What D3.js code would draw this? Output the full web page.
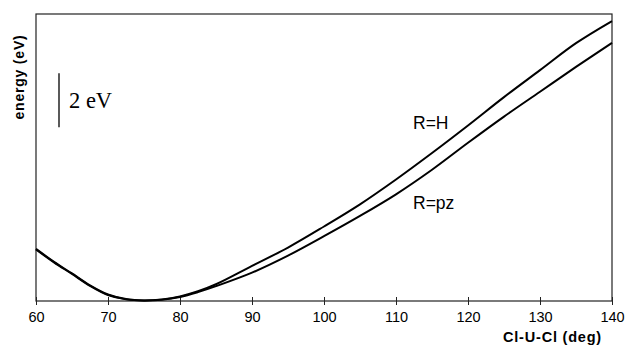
<!DOCTYPE html>
<html>
<head>
<meta charset="utf-8">
<script src="https://cdn.jsdelivr.net/npm/d3@7"></script>
<style>
  body { margin: 0; background: #fff; }
  svg { display: block; }
</style>
</head>
<body>
<svg width="625" height="345"></svg>
<script>
// bond angle (deg) and energy (eV)
const angles = [60, 62.5, 65, 67.5, 70, 72.5, 75, 77.5, 80, 82.5, 85, 90, 95, 100, 105, 110, 115, 120, 125, 130, 135, 140];
const energyH = [1.93, 1.45, 1.02, 0.58, 0.24, 0.07, 0.02, 0.06, 0.17, 0.36, 0.62, 1.30, 1.98, 2.76, 3.58, 4.50, 5.48, 6.50, 7.55, 8.55, 9.55, 10.37];
const energyPz = [1.91, 1.43, 1.00, 0.56, 0.22, 0.06, 0.02, 0.05, 0.15, 0.33, 0.55, 1.05, 1.68, 2.40, 3.15, 3.95, 4.86, 5.86, 6.83, 7.75, 8.67, 9.56];
const xTicks = [60, 70, 80, 90, 100, 110, 120, 130, 140];
const scaleBar = [6.44, 8.44]; // the "2 eV" bar

const svg = d3.select("svg");
const mLeft = 36, mRight = 612, mTop = 14, mBottom = 301;

const x = d3.scaleLinear().domain([60, 140]).range([mLeft, mRight]);
const y = d3.scaleLinear().domain([0, 10.63]).range([mBottom, mTop]);

const sans = "Arial, 'Liberation Sans', sans-serif";

// frame
svg.append("rect")
    .attr("x", mLeft).attr("y", mTop)
    .attr("width", mRight - mLeft).attr("height", mBottom - mTop)
    .attr("fill", "none")
    .attr("stroke", "#222")
    .attr("stroke-width", 1.2);

// x axis, ticks cross the line
const xAxis = svg.append("g")
    .attr("transform", `translate(0,${mBottom})`)
    .call(d3.axisBottom(x).tickValues(xTicks).tickSize(4).tickSizeOuter(0).tickPadding(7));
xAxis.select(".domain").remove();
xAxis.selectAll(".tick line")
    .attr("y1", -4).attr("y2", 4)
    .attr("stroke", "#222");
xAxis.selectAll(".tick text")
    .attr("font-family", sans)
    .attr("font-size", 14.5)
    .attr("fill", "#000");

svg.append("text")
    .attr("x", 602).attr("y", 342)
    .attr("text-anchor", "end")
    .attr("font-family", sans)
    .attr("font-size", 14.5)
    .attr("font-weight", "bold")
    .attr("letter-spacing", 0.8)
    .text("Cl-U-Cl (deg)");

svg.append("text")
    .attr("transform", "translate(23.5,77) rotate(-90)")
    .attr("text-anchor", "middle")
    .attr("font-family", sans)
    .attr("font-size", 14)
    .attr("font-weight", "bold")
    .attr("letter-spacing", 0.8)
    .text("energy (eV)");

// scale bar
svg.append("line")
    .attr("x1", 59).attr("x2", 59)
    .attr("y1", y(scaleBar[0])).attr("y2", y(scaleBar[1]))
    .attr("stroke", "#000")
    .attr("stroke-width", 1.3);
svg.append("text")
    .attr("x", 69).attr("y", 107.5)
    .attr("font-family", "'Liberation Serif', 'Times New Roman', serif")
    .attr("font-size", 22.5)
    .text("2 eV");

// curves
const line = d3.line()
    .x(d => x(d[0]))
    .y(d => y(d[1]))
    .curve(d3.curveCatmullRom);

[energyH, energyPz].forEach(function(vals) {
  svg.append("path")
      .datum(angles.map((a, i) => [a, vals[i]]))
      .attr("fill", "none")
      .attr("stroke", "#000")
      .attr("stroke-width", 2)
      .attr("d", line);
});

// curve labels
svg.append("text")
    .attr("x", 413).attr("y", 128.5)
    .attr("font-family", sans)
    .attr("font-size", 17.5)
    .text("R=H");
svg.append("text")
    .attr("x", 413).attr("y", 209)
    .attr("font-family", sans)
    .attr("font-size", 17.5)
    .text("R=pz");
</script>
</body>
</html>
